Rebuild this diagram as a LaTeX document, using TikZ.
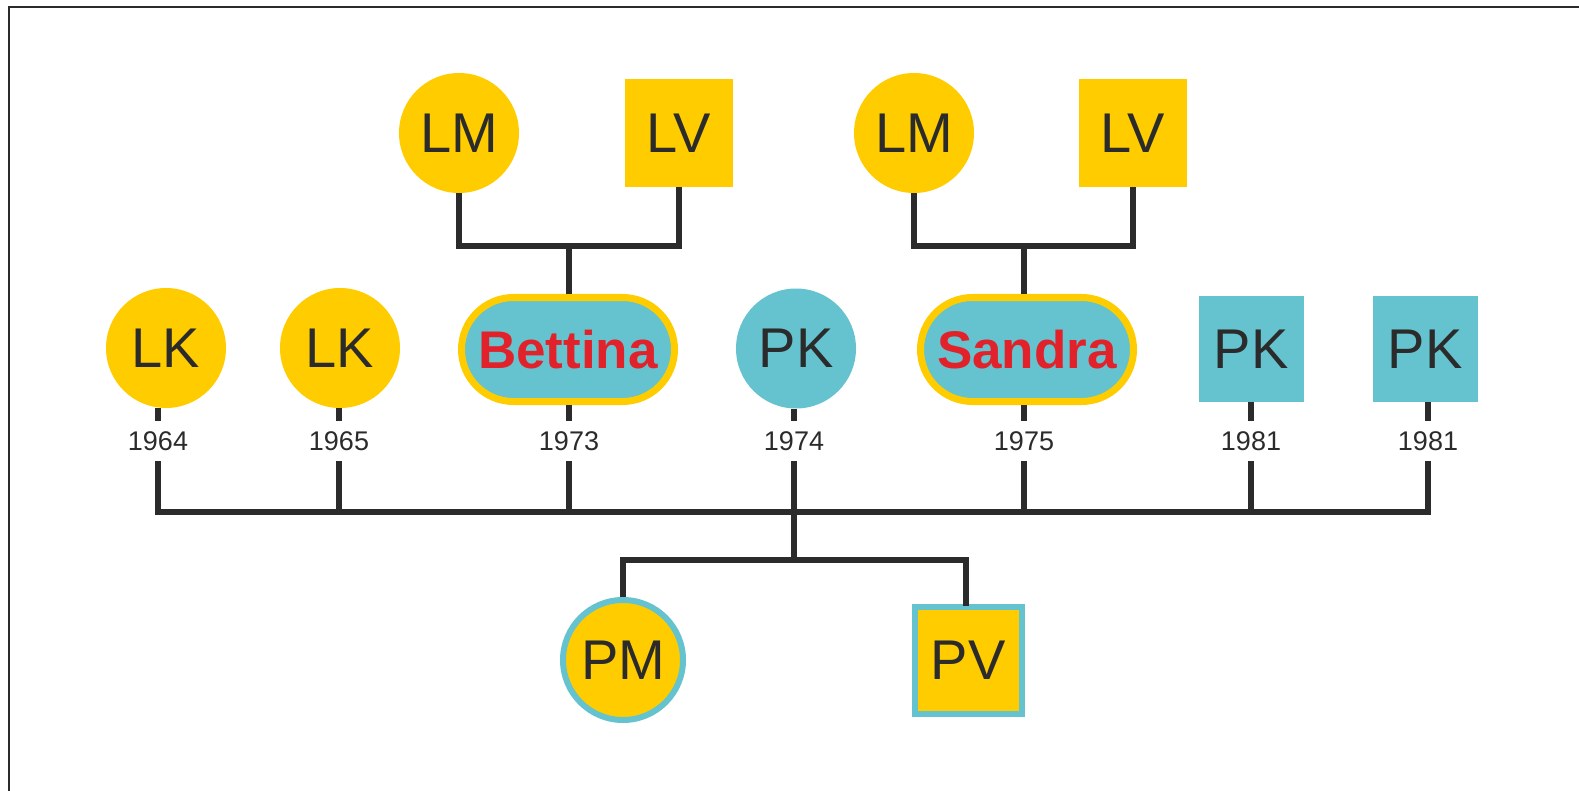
\documentclass[tikz,border=0pt]{standalone}
\usepackage{fontspec}
\setmainfont{Liberation Sans}
\definecolor{sun}{HTML}{FFCC00}
\definecolor{sea}{HTML}{64C3CF}
\definecolor{ink}{HTML}{2B2B2B}
\definecolor{alert}{HTML}{E2222B}
\begin{document}
\begin{tikzpicture}[x=0.5pt,y=-0.5pt,
    every node/.style={text=ink,font=\fontsize{28}{30}\selectfont},
    she/.style={circle,fill=#1,minimum size=60pt,inner sep=0pt},
    he/.style={rectangle,fill=#1,minimum size=53.5pt,inner sep=0pt},
    index/.style={rectangle,rounded corners=26pt,fill=sea,draw=sun,line width=3.5pt,
      minimum width=106.5pt,minimum height=52pt,text=alert,
      font=\fontsize{26.5}{30}\selectfont\bfseries},
    year/.style={inner sep=0pt,minimum height=20pt,font=\fontsize{13.5}{15}\selectfont},
    tie/.style={draw=ink,line width=3pt}]
  \useasboundingbox (0,0) rectangle (1579,791);
  \fill[white] (0,0) rectangle (1579,791);
  \draw[ink,line width=1pt] (8.5,791) -- (8.5,7) -- (1579,7);
  \draw
    (459,133) node[she=sun] (lm1){LM}
    (679,133) node[he=sun,minimum size=54pt] (lv1){LV}
    (914,133) node[she=sun] (lm2){LM}
    (1133,133) node[he=sun,minimum size=54pt] (lv2){LV}
    (166,348) node[she=sun] (lk1){LK}
    (340,348) node[she=sun] (lk2){LK}
    (568,349.5) node[index] (bet){Bettina}
    (796,348.5) node[she=sea] (pk1){PK}
    (1027,349.5) node[index] (san){Sandra}
    (1251,349) node[he=sea,minimum size=52.5pt] (pk2){PK}
    (1425,349) node[he=sea,minimum size=52.5pt] (pk3){PK}
    (623,660) node[she=sun,draw=sea,line width=3pt] (pm){PM}
    (968,660) node[he=sun,draw=sea,line width=3pt] (pv){PV}
    (158,441) node[year] (y1){1964}
    (339,441) node[year] (y2){1965}
    (569,441) node[year] (y3){1973}
    (794,441) node[year] (y4){1974}
    (1024,441) node[year] (y5){1975}
    (1251,441) node[year] (y6){1981}
    (1428,441) node[year] (y7){1981};
  \coordinate (t1) at (569,246);
  \coordinate (t2) at (1024,246);
  \coordinate (b1) at (158,512);
  \coordinate (b4) at (794,512);
  \coordinate (b7) at (1428,512);
  \coordinate (m) at (794,560);
  \begin{scope}[tie]
    \draw (lm1.south) |- (t1) -| (lv1.south);
    \draw (lm2.south) |- (t2) -| (lv2.south);
    \draw (t1) -- (t1 |- bet.north);
    \draw (t2) -- (t2 |- san.north);
    \draw (y1) -- (y1 |- lk1.south);
    \draw (y2) -- (y2 |- lk2.south);
    \draw (y3) -- (y3 |- bet.south);
    \draw (y4) -- (y4 |- pk1.south);
    \draw (y5) -- (y5 |- san.south);
    \draw (y6) -- (pk2);
    \draw (y7) -- (y7 |- pk3.south);
    \draw (y1) -- (b1) -- (b7) -- (y7);
    \draw (y2) -- (y2 |- b1);
    \draw (y3) -- (y3 |- b1);
    \draw (y4) -- (b4) -- (m);
    \draw (y5) -- (y5 |- b1);
    \draw (y6) -- (y6 |- b1);
    \draw (pm.north) |- (m) -| (966,606);
  \end{scope}
\end{tikzpicture}
\end{document}
